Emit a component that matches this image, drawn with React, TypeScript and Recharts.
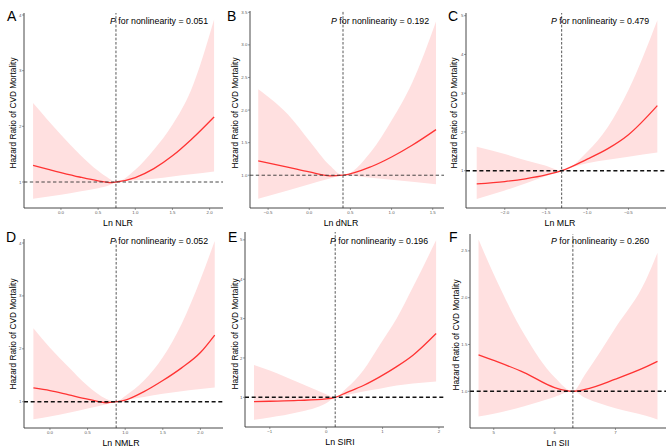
import React from "react";
import { ComposedChart, Area, Line, XAxis, YAxis, ReferenceLine } from "recharts";

// ---- Data ----
const nlrX = [-0.375, 0, 0.25, 0.5, 0.65, 0.74, 1.0, 1.25, 1.5, 1.75, 2.06];
const nlrHR = [1.3, 1.17, 1.09, 1.02, 0.99, 1.0, 1.08, 1.24, 1.47, 1.76, 2.17];
const nlrLo = [0.7, 0.77, 0.83, 0.89, 0.94, 1.0, 1.03, 1.06, 1.1, 1.14, 1.19];
const nlrHi = [2.42, 1.85, 1.5, 1.2, 1.06, 1.0, 1.22, 1.58, 2.03, 2.65, 3.92];

const dnlrX = [-0.62, -0.25, 0, 0.25, 0.41, 0.75, 1.0, 1.25, 1.54];
const dnlrHR = [1.22, 1.12, 1.05, 0.99, 1.0, 1.13, 1.28, 1.46, 1.7];
const dnlrLo = [0.64, 0.77, 0.86, 0.95, 1.0, 0.96, 0.93, 0.9, 0.86];
const dnlrHi = [2.32, 1.92, 1.53, 1.15, 1.0, 1.36, 1.84, 2.42, 3.36];

const mlrX = [-2.34, -2.0, -1.75, -1.5, -1.31, -1.0, -0.75, -0.5, -0.15];
const mlrHR = [0.66, 0.72, 0.79, 0.89, 1.0, 1.3, 1.57, 1.93, 2.68];
const mlrLo = [0.27, 0.49, 0.67, 0.86, 1.0, 1.19, 1.28, 1.36, 1.47];
const mlrHi = [1.62, 1.43, 1.27, 1.13, 1.0, 1.49, 2.13, 3.08, 4.88];

const nmlrX = [-0.22, 0, 0.25, 0.5, 0.75, 0.88, 1.0, 1.25, 1.5, 1.75, 2.0, 2.19];
const nmlrHR = [1.26, 1.21, 1.13, 1.05, 0.98, 1.0, 1.03, 1.19, 1.4, 1.64, 1.93, 2.26];
const nmlrLo = [0.67, 0.72, 0.79, 0.87, 0.95, 1.0, 1.03, 1.09, 1.15, 1.2, 1.24, 1.27];
const nmlrHi = [2.39, 2.02, 1.65, 1.3, 1.05, 1.0, 1.11, 1.4, 1.84, 2.47, 3.31, 4.04];

const siriX = [-1.28, -1.0, -0.5, 0, 0.16, 0.36, 0.66, 0.95, 1.25, 1.54, 1.95];
const siriHR = [0.89, 0.9, 0.92, 0.96, 1.0, 1.12, 1.3, 1.52, 1.78, 2.07, 2.62];
const siriLo = [0.43, 0.49, 0.62, 0.85, 1.0, 1.06, 1.15, 1.22, 1.3, 1.35, 1.4];
const siriHi = [1.82, 1.68, 1.38, 1.08, 1.0, 1.23, 1.69, 2.33, 3.0, 3.8, 4.99];

const siiX = [4.75, 5.0, 5.5, 6.0, 6.3, 6.5, 7.0, 7.5, 7.69];
const siiHR = [1.39, 1.33, 1.2, 1.04, 1.0, 1.02, 1.13, 1.26, 1.32];
const siiLo = [0.73, 0.76, 0.84, 0.94, 1.0, 0.93, 0.82, 0.74, 0.7];
const siiHi = [2.62, 2.25, 1.61, 1.15, 1.0, 1.18, 1.68, 2.19, 2.48];

const letters = ["A", "B", "C", "D", "E", "F"];
const xTitles = ["Ln NLR", "Ln dNLR", "Ln MLR", "Ln NMLR", "Ln SIRI", "Ln SII"];
const pValues = ["0.051", "0.192", "0.479", "0.052", "0.196", "0.260"];
const refX = [0.74, 0.41, -1.31, 0.88, 0.16, 6.3];

const xTicksA = [0, 0.5, 1, 1.5, 2];
const xTicksB = [-0.5, 0, 0.5, 1, 1.5];
const xTicksC = [-2, -1.5, -1, -0.5];
const xTicksD = [0, 0.5, 1, 1.5, 2];
const xTicksE = [-1, 0, 1, 2];
const xTicksF = [5, 6, 7];
const yTicksA = [1, 2, 3, 4];
const yTicksB = [1, 1.5, 2, 2.5, 3, 3.5];
const yTicksC = [1, 2, 3, 4, 5];
const yTicksD = [1, 2, 3, 4];
const yTicksE = [1, 2, 3, 4, 5];
const yTicksF = [1, 1.5, 2, 2.5];

const build = (xs: number[], hr: number[], lo: number[], hi: number[]) =>
  xs.map((x, i) => ({ x, hr: hr[i], band: [lo[i], hi[i]] }));

const minus = (s: string) => s.replace("-", "\u2212");
const fmt1 = (v: number) => minus(v.toFixed(1));
const fmt0 = (v: number) => minus(String(v));

const FONT = "'Liberation Sans', Arial, Helvetica, sans-serif";
const YW = 20;
const MT = 6;
const MR = 3;
const MB = 2;
const XH = 12;

type Panel = {
  data: { x: number; hr: number; band: number[] }[];
  L: number; R: number; T: number; B: number;
  xd: [number, number]; yd: [number, number];
  xt: number[]; yt: number[];
  xf: (v: number) => string; yf: (v: number) => string;
  heavy: boolean;
  letterX: number; letterY: number;
  pX: number; pY: number;
  yTitleX: number; yTitleY: number;
  xTitleX: number; xTitleY: number;
};

const panels: Panel[] = [
  { data: build(nlrX, nlrHR, nlrLo, nlrHi), L: 24, R: 223, T: 13, B: 208, xd: [-0.497, 2.18], yd: [0.533, 4.036], xt: xTicksA, yt: yTicksA, xf: fmt1, yf: fmt0, heavy: false,
    letterX: 7, letterY: 20.5, pX: 110, pY: 24.3, yTitleX: 16, yTitleY: 113, xTitleX: 118, xTitleY: 225.5 },
  { data: build(dnlrX, dnlrHR, dnlrLo, dnlrHi), L: 250, R: 444, T: 11, B: 208, xd: [-0.72, 1.637], yd: [0.497, 3.52], xt: xTicksB, yt: yTicksB, xf: fmt1, yf: fmt1, heavy: false,
    letterX: 227, letterY: 20.5, pX: 331, pY: 24.3, yTitleX: 237.5, yTitleY: 113, xTitleX: 341, xTitleY: 225.5 },
  { data: build(mlrX, mlrHR, mlrLo, mlrHi), L: 466, R: 666, T: 13, B: 208, xd: [-2.47, -0.045], yd: [0.037, 5.07], xt: xTicksC, yt: yTicksC, xf: fmt1, yf: fmt0, heavy: true,
    letterX: 448, letterY: 20.5, pX: 551, pY: 23.8, yTitleX: 456.5, yTitleY: 113, xTitleX: 560, xTitleY: 225.5 },
  { data: build(nmlrX, nmlrHR, nmlrLo, nmlrHi), L: 24, R: 223, T: 239, B: 428, xd: [-0.345, 2.3], yd: [0.503, 4.076], xt: xTicksD, yt: yTicksD, xf: fmt1, yf: fmt0, heavy: true,
    letterX: 6, letterY: 241.5, pX: 110, pY: 244, yTitleX: 16, yTitleY: 334, xTitleX: 121, xTitleY: 445.5 },
  { data: build(siriX, siriHR, siriLo, siriHi), L: 245, R: 444, T: 232, B: 427, xd: [-1.44, 2.09], yd: [0.246, 5.2], xt: xTicksE, yt: yTicksE, xf: fmt0, yf: fmt0, heavy: true,
    letterX: 228, letterY: 242, pX: 330, pY: 243.5, yTitleX: 237.5, yTitleY: 334, xTitleX: 340, xTitleY: 444.5 },
  { data: build(siiX, siiHR, siiLo, siiHi), L: 470, R: 666, T: 234, B: 428, xd: [4.61, 7.83], yd: [0.608, 2.68], xt: xTicksF, yt: yTicksF, xf: fmt0, yf: fmt1, heavy: true,
    letterX: 449, letterY: 241.5, pX: 551, pY: 243.5, yTitleX: 458.5, yTitleY: 335, xTitleX: 558, xTitleY: 445.5 },
];

const tickStyle = { fontSize: 4.4, fill: "#5a5a5a", fontFamily: FONT };
const txt = { fontFamily: FONT };

function PanelChart({ p, i }: { p: Panel; i: number }) {
  const w = p.R - p.L + YW + MR;
  const h = p.B - p.T + MT + XH + MB;
  return (
    <div style={{ position: "absolute", left: p.L - YW, top: p.T - MT }}>
      <ComposedChart width={w} height={h} data={p.data} margin={{ top: MT, right: MR, bottom: MB, left: 0 }}>
        <XAxis
          type="number"
          dataKey="x"
          domain={p.xd}
          ticks={p.xt}
          allowDataOverflow
          height={XH}
          tickSize={2}
          tickMargin={1.3}
          tick={tickStyle}
          tickFormatter={p.xf}
          axisLine={{ stroke: "#333", strokeWidth: 0.9 }}
          tickLine={{ stroke: "#555", strokeWidth: 0.6 }}
        />
        <YAxis
          type="number"
          domain={p.yd}
          ticks={p.yt}
          allowDataOverflow
          width={YW}
          tickSize={2}
          tickMargin={0.6}
          tick={tickStyle}
          tickFormatter={p.yf}
          axisLine={{ stroke: "#333", strokeWidth: 0.9 }}
          tickLine={{ stroke: "#555", strokeWidth: 0.6 }}
        />
        <Area
          type="monotone"
          dataKey="band"
          stroke="none"
          fill="#FFE0E0"
          fillOpacity={1}
          isAnimationActive={false}
          dot={false}
          activeDot={false}
        />
        <Line
          type="monotone"
          dataKey="hr"
          stroke="#FF3333"
          strokeWidth={1.3}
          dot={false}
          activeDot={false}
          isAnimationActive={false}
        />
        <ReferenceLine
          y={1}
          stroke={p.heavy ? "#111" : "#333"}
          strokeWidth={p.heavy ? 1.5 : 0.9}
          strokeDasharray={p.heavy ? "4 2.7" : "3.4 2.4"}
        />
        <ReferenceLine x={refX[i]} stroke="#444" strokeWidth={0.9} strokeDasharray="2.6 1.7" />
      </ComposedChart>
    </div>
  );
}

export default function App() {
  return (
    <div style={{ position: "absolute", left: 0, top: 0, width: 669, height: 448, background: "#fff", overflow: "hidden", fontFamily: FONT }}>
      {panels.map((p, i) => (
        <PanelChart key={i} p={p} i={i} />
      ))}
      <svg width={669} height={448} style={{ position: "absolute", left: 0, top: 0, pointerEvents: "none", fontFamily: FONT }}>
        {panels.map((p, i) => (
          <g key={i} fill="#000">
            <text x={p.letterX} y={p.letterY} fontSize={14} style={txt}>{letters[i]}</text>
            <text x={p.pX} y={p.pY} fontSize={8.8} style={txt}>
              <tspan fontStyle="italic">P</tspan>
              <tspan>{" for nonlinearity = " + pValues[i]}</tspan>
            </text>
            <text
              x={p.yTitleX}
              y={p.yTitleY}
              fontSize={8.3}
              textAnchor="middle"
              style={txt}
              transform={`rotate(-90 ${p.yTitleX} ${p.yTitleY})`}
            >
              Hazard Ratio of CVD Mortality
            </text>
            <text x={p.xTitleX} y={p.xTitleY} fontSize={8.8} textAnchor="middle" style={txt}>{xTitles[i]}</text>
          </g>
        ))}
      </svg>
    </div>
  );
}
